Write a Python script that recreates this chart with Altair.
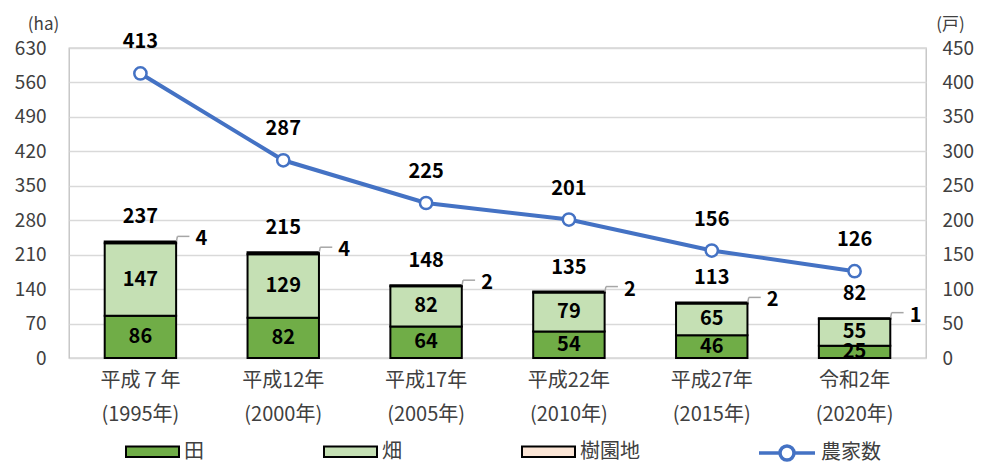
import altair as alt
import pandas as pd

categories = ["平成７年|(1995年)", "平成12年|(2000年)", "平成17年|(2005年)",
              "平成22年|(2010年)", "平成27年|(2015年)", "令和2年|(2020年)"]
rice = [86, 82, 64, 54, 46, 25]          # 田
upland = [147, 129, 82, 79, 65, 55]      # 畑
orchard = [4, 4, 2, 2, 2, 1]             # 樹園地
totals = [237, 215, 148, 135, 113, 82]
farms = [413, 287, 225, 201, 156, 126]   # 農家数
series = ["田", "畑", "樹園地"]
colors = ["#70AD47", "#C5E0B4", "#FBE5D6"]
line_name = "農家数"
line_color = "#4472C4"
left_ticks = [0, 70, 140, 210, 280, 350, 420, 490, 560, 630]
right_ticks = [0, 50, 100, 150, 200, 250, 300, 350, 400, 450]

FONT = "Noto Sans CJK JP"

rows = []
for i, c in enumerate(categories):
    for k, (s, vals) in enumerate(zip(series, [rice, upland, orchard])):
        rows.append({"cat": c, "series": s, "value": vals[i], "ord": k})
bar_df = pd.DataFrame(rows)

tot_df = pd.DataFrame({"cat": categories, "total": totals, "orchard": orchard,
                       "farms": farms, "name": [line_name] * len(categories)})

xscale = alt.Scale(paddingInner=0.5, paddingOuter=0.25)
x_axis = alt.Axis(title=None, labelExpr="split(datum.label, '|')", labelAngle=0,
                  ticks=False, domain=False, labelFontSize=20, labelLineHeight=34,
                  labelPadding=12, labelColor="#404040", grid=False)
X = alt.X("cat:N", sort=categories, scale=xscale, axis=x_axis)

yl = alt.Scale(domain=[0, 630])
yr = alt.Scale(domain=[0, 450])
yl_axis = alt.Axis(values=left_ticks, title="(ha)", titleAngle=0, titleX=-26, titleY=-24,
                   titleAlign="center", titleBaseline="middle", ticks=False, domain=False,
                   labelFontSize=19, labelPadding=23, labelColor="#404040",
                   titleFontSize=17, titleFontWeight="normal", titleColor="#404040",
                   grid=True, gridColor="#d9d9d9", gridWidth=1.3)
yr_axis = alt.Axis(orient="right", values=right_ticks, title="(戸)", titleAngle=0, titleX=24,
                   titleY=-24, titleAlign="center", titleBaseline="middle", ticks=False,
                   domain=False, labelFontSize=19, labelPadding=16, labelColor="#404040",
                   titleFontSize=17, titleFontWeight="normal", titleColor="#404040",
                   grid=False)

bars = alt.Chart(bar_df).mark_bar(stroke="black", strokeWidth=2).encode(
    x=X,
    y=alt.Y("value:Q", stack="zero", scale=yl, axis=yl_axis),
    color=alt.Color("series:N", scale=alt.Scale(domain=series, range=colors),
                    legend=alt.Legend(orient="none", legendX=56, legendY=376, direction="horizontal",
                                      title=None, symbolType="M-1,-0.2H1V0.2H-1Z", symbolSize=2809,
                                      symbolStrokeColor="black", symbolStrokeWidth=2,
                                      labelFontSize=20, labelColor="#404040", gridAlign="all",
                                      columnPadding=76, labelOffset=4, padding=0)),
    order=alt.Order("ord:Q"),
)

seg_labels = alt.Chart(bar_df).transform_stack(
    stack="value", groupby=["cat"], sort=[alt.SortField("ord")], as_=["y0", "y1"]
).transform_filter("datum.ord < 2").transform_calculate(
    mid="(datum.y0 + datum.y1) / 2"
).mark_text(fontSize=20, fontWeight="bold", color="black", baseline="middle").encode(
    x=X, y=alt.Y("mid:Q", scale=yl, axis=yl_axis), text="value:Q")

tot_labels = alt.Chart(tot_df).mark_text(fontSize=20, fontWeight="bold", color="black",
                                         baseline="middle", dy=-24).encode(
    x=X, y=alt.Y("total:Q", scale=yl, axis=yl_axis), text="total:Q")

lead_v = alt.Chart(tot_df).mark_rule(color="#a6a6a6", strokeWidth=1.5, xOffset=36, x2Offset=37,
                                     yOffset=0, y2Offset=-5).encode(
    x=X, x2="cat:N", y=alt.Y("total:Q", scale=yl, axis=yl_axis), y2="total:Q")
lead_h = alt.Chart(tot_df).mark_rule(color="#a6a6a6", strokeWidth=1.5, xOffset=37, x2Offset=49,
                                     yOffset=-5, y2Offset=-5).encode(
    x=X, x2="cat:N", y=alt.Y("total:Q", scale=yl, axis=yl_axis), y2="total:Q")
orch_labels = alt.Chart(tot_df).mark_text(fontSize=20, fontWeight="bold", color="black",
                                          baseline="middle", dx=61, dy=-2).encode(
    x=X, y=alt.Y("total:Q", scale=yl, axis=yl_axis), text="orchard:Q")

left = alt.layer(bars, seg_labels, tot_labels, lead_v, lead_h, orch_labels)

line = alt.Chart(tot_df).mark_line(strokeWidth=4).encode(
    x=X,
    y=alt.Y("farms:Q", scale=yr, axis=yr_axis),
    stroke=alt.Stroke("name:N", scale=alt.Scale(domain=[line_name], range=[line_color]),
                      legend=alt.Legend(orient="none", legendX=688, legendY=375, title=None,
                                        symbolType="M-1,0H-0.25M0.25,0H1M-0.25,0A0.25,0.25 0 1,1 0.25,0A0.25,0.25 0 1,1 -0.25,0",
                                        symbolSize=3136, symbolStrokeWidth=3.5,
                                        symbolFillColor="white", labelFontSize=20,
                                        labelColor="#404040", labelOffset=4, padding=0)),
)
pts = alt.Chart(tot_df).mark_point(filled=True, fill="white", stroke=line_color, strokeWidth=2.5,
                                   size=150, opacity=1).encode(
    x=X, y=alt.Y("farms:Q", scale=yr, axis=yr_axis))
line_labels = alt.Chart(tot_df).mark_text(fontSize=20, fontWeight="bold", color="black",
                                          baseline="middle", dy=-31).encode(
    x=X, y=alt.Y("farms:Q", scale=yr, axis=yr_axis), text="farms:Q")

right = alt.layer(line, pts, line_labels)

chart = alt.layer(left, right).resolve_scale(y="independent").properties(
    width=857, height=310,
    autosize=alt.AutoSizeParams(type="none"),
    padding={"left": 61, "top": 40, "right": 50, "bottom": 108},
).configure(font=FONT).configure_view(stroke="#bfbfbf", strokeWidth=1.3)

chart.save("out.html", embed_options={"renderer": "svg", "actions": False})
